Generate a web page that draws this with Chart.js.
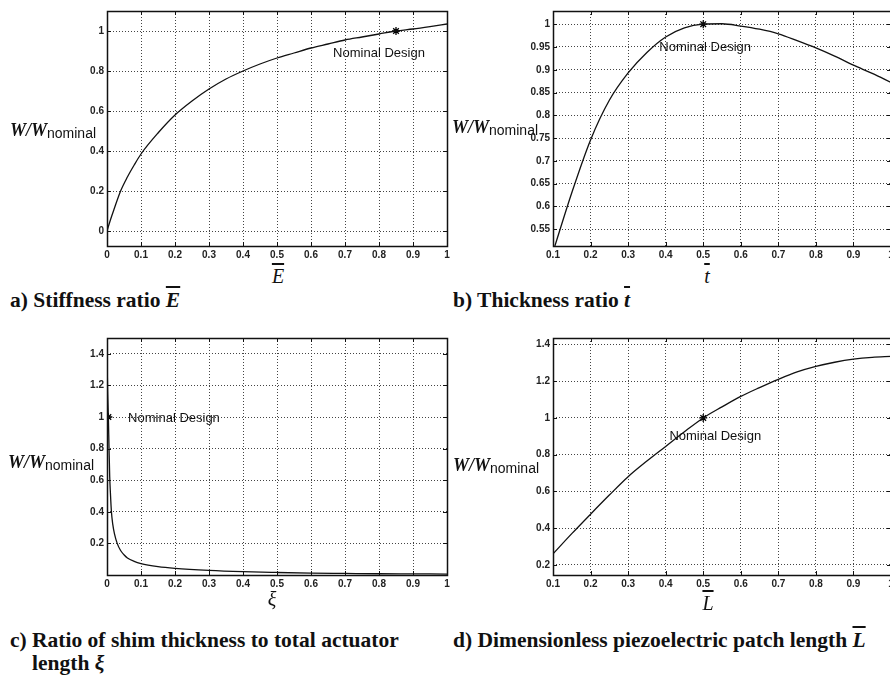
<!DOCTYPE html>
<html>
<head>
<meta charset="utf-8">
<script src="https://cdn.jsdelivr.net/npm/chart.js@4.4.1/dist/chart.umd.min.js"></script>
<style>
body { margin: 0; width: 890px; height: 678px; overflow: hidden; background: #fff; position: relative; }
canvas { position: absolute; }
.ylab { position: absolute; white-space: nowrap; line-height: 18px; color: #111; }
.ylab b { font: italic bold 18px 'Liberation Serif', serif; }
.ylab span { font: 14px 'Liberation Sans', sans-serif; position: relative; top: 2px; }
.xt { position: absolute; font: italic 20px 'Liberation Serif', serif; line-height: 20px; transform: translateX(-50%); color: #111; }
.ov { text-decoration: overline; }
.cap { position: absolute; font: bold 21.5px 'Liberation Serif', serif; line-height: 21px; white-space: nowrap; color: #111; }
</style>
</head>
<body>

<canvas id="chartA" width="400" height="262" style="left:60px;top:0px"></canvas>
<canvas id="chartB" width="410" height="262" style="left:500px;top:0px"></canvas>
<canvas id="chartC" width="400" height="264" style="left:60px;top:328px"></canvas>
<canvas id="chartD" width="410" height="264" style="left:500px;top:328px"></canvas>

<div class="ylab" style="left:10px;top:120px"><b>W/W</b><span>nominal</span></div>
<div class="ylab" style="left:452px;top:117px"><b>W/W</b><span>nominal</span></div>
<div class="ylab" style="left:8px;top:452px"><b>W/W</b><span>nominal</span></div>
<div class="ylab" style="left:453px;top:455px"><b>W/W</b><span>nominal</span></div>

<div class="xt" style="left:278px;top:266px"><span class="ov">E</span></div>
<div class="xt" style="left:707px;top:266px"><span class="ov">t</span></div>
<div class="xt" style="left:272px;top:589px">ξ</div>
<div class="xt" style="left:708px;top:593px"><span class="ov">L</span></div>

<div class="cap" style="left:10px;top:290px">a) Stiffness ratio <i class="ov">E</i></div>
<div class="cap" style="left:453px;top:290px">b) Thickness ratio <i class="ov">t</i></div>
<div class="cap" style="left:10px;top:630px">c) Ratio of shim thickness to total actuator</div>
<div class="cap" style="left:32px;top:653px">length <i>ξ</i></div>
<div class="cap" style="left:453px;top:630px">d) Dimensionless piezoelectric patch length <i class="ov">L</i></div>

<script>
// a) stiffness ratio
const eBar = [0, 0.01, 0.02, 0.04, 0.06, 0.08, 0.1, 0.15, 0.2, 0.25, 0.3, 0.35, 0.4, 0.45, 0.5, 0.55, 0.6, 0.65, 0.7, 0.75, 0.8, 0.85, 0.9, 0.95, 1.0];
const wE = [0, 0.055, 0.105, 0.2, 0.27, 0.33, 0.385, 0.49, 0.58, 0.65, 0.71, 0.76, 0.80, 0.835, 0.865, 0.89, 0.915, 0.935, 0.955, 0.97, 0.985, 1.0, 1.01, 1.022, 1.035];
const nomE = [0.85, 1.0];
const xTicksA = [0, 0.1, 0.2, 0.3, 0.4, 0.5, 0.6, 0.7, 0.8, 0.9, 1];
const yTicksA = [0, 0.2, 0.4, 0.6, 0.8, 1];

// b) thickness ratio
const tBar = [0.105, 0.15, 0.2, 0.25, 0.3, 0.35, 0.4, 0.45, 0.5, 0.55, 0.6, 0.65, 0.7, 0.75, 0.8, 0.85, 0.9, 0.95, 1.0];
const wT = [0.513, 0.63, 0.746, 0.833, 0.893, 0.938, 0.972, 0.992, 1.0, 1.001, 0.996, 0.989, 0.979, 0.964, 0.948, 0.93, 0.91, 0.892, 0.872];
const nomT = [0.5, 1.0];
const xTicksB = [0.1, 0.2, 0.3, 0.4, 0.5, 0.6, 0.7, 0.8, 0.9, 1];
const yTicksB = [0.55, 0.6, 0.65, 0.7, 0.75, 0.8, 0.85, 0.9, 0.95, 1];

// c) shim thickness ratio
const xi = [0, 0.002, 0.004, 0.006, 0.008, 0.01, 0.013, 0.017, 0.022, 0.03, 0.04, 0.05, 0.06, 0.08, 0.1, 0.15, 0.2, 0.3, 0.4, 0.5, 0.6, 0.7, 0.8, 0.9, 1.0];
const wXi = [1.37, 1.15, 1.0, 0.8, 0.62, 0.52, 0.4, 0.32, 0.26, 0.2, 0.155, 0.128, 0.108, 0.086, 0.072, 0.053, 0.042, 0.029, 0.021, 0.016, 0.012, 0.01, 0.008, 0.007, 0.006];
const nomXi = [0.004, 1.0];
const xTicksC = [0, 0.1, 0.2, 0.3, 0.4, 0.5, 0.6, 0.7, 0.8, 0.9, 1];
const yTicksC = [0.2, 0.4, 0.6, 0.8, 1, 1.2, 1.4];

// d) patch length
const lBar = [0.1, 0.15, 0.2, 0.25, 0.3, 0.35, 0.4, 0.45, 0.5, 0.55, 0.6, 0.65, 0.7, 0.75, 0.8, 0.85, 0.9, 0.95, 1.0];
const wL = [0.26, 0.37, 0.476, 0.58, 0.68, 0.765, 0.845, 0.925, 1.0, 1.06, 1.117, 1.165, 1.21, 1.25, 1.28, 1.303, 1.32, 1.33, 1.335];
const nomL = [0.5, 1.0];
const xTicksD = [0.1, 0.2, 0.3, 0.4, 0.5, 0.6, 0.7, 0.8, 0.9, 1];
const yTicksD = [0.2, 0.4, 0.6, 0.8, 1, 1.2, 1.4];

const fmt = v => String(+v.toFixed(2));

// matlab style box with inward ticks
const matBox = {
    id: 'matBox',
    afterDatasetsDraw(chart) {
        const { ctx, chartArea: a, scales: { x, y } } = chart;
        ctx.save();
        ctx.strokeStyle = '#111';
        ctx.lineWidth = 1;
        ctx.beginPath();
        x.ticks.forEach(t => {
            const px = Math.round(x.getPixelForValue(t.value)) + 0.5;
            ctx.moveTo(px, a.bottom); ctx.lineTo(px, a.bottom - 4);
            ctx.moveTo(px, a.top); ctx.lineTo(px, a.top + 4);
        });
        y.ticks.forEach(t => {
            const py = Math.round(y.getPixelForValue(t.value)) + 0.5;
            ctx.moveTo(a.left, py); ctx.lineTo(a.left + 4, py);
            ctx.moveTo(a.right, py); ctx.lineTo(a.right - 4, py);
        });
        ctx.stroke();
        ctx.lineWidth = 1.5;
        ctx.strokeRect(Math.round(a.left) + 0.5, Math.round(a.top) + 0.5, Math.round(a.right - a.left), Math.round(a.bottom - a.top));
        ctx.restore();
    }
};

const nomLabel = {
    id: 'nomLabel',
    afterDatasetsDraw(chart, args, opts) {
        const { ctx, scales: { x, y } } = chart;
        ctx.save();
        ctx.font = '13px "Liberation Sans"';
        ctx.fillStyle = '#111';
        ctx.textBaseline = 'middle';
        ctx.fillText('Nominal Design', x.getPixelForValue(opts.x), y.getPixelForValue(opts.y));
        ctx.restore();
    }
};

function makePanel(id, xs, ys, nom, xTicks, yTicks, lim, label, yAxisW, pad, xAxisH) {
    const ctx = document.getElementById(id).getContext('2d');
    const tickFont = { family: 'Liberation Sans', size: 10, weight: 'bold' };
    return new Chart(ctx, {
        type: 'scatter',
        data: {
            datasets: [{
                data: xs.map((v, i) => ({ x: v, y: ys[i] })),
                showLine: true,
                borderColor: '#111',
                borderWidth: 1.3,
                pointRadius: 0,
                cubicInterpolationMode: 'monotone'
            }, {
                data: [{ x: nom[0], y: nom[1] }],
                pointStyle: 'star',
                pointRadius: 4,
                borderColor: '#000',
                borderWidth: 1.3,
                backgroundColor: '#000'
            }]
        },
        options: {
            responsive: false,
            animation: false,
            devicePixelRatio: 1,
            events: [],
            layout: { padding: pad },
            plugins: {
                legend: { display: false },
                tooltip: { enabled: false },
                nomLabel: label
            },
            scales: {
                x: {
                    type: 'linear', min: lim[0], max: lim[1],
                    afterBuildTicks: s => { s.ticks = xTicks.map(v => ({ value: v })); },
                    afterFit: s => { s.height = xAxisH; },
                    grid: { color: '#444', lineWidth: 1, drawTicks: false },
                    border: { display: false, dash: [1, 2] },
                    ticks: { font: tickFont, color: '#222', padding: 3, maxRotation: 0, autoSkip: false, callback: fmt }
                },
                y: {
                    type: 'linear', min: lim[2], max: lim[3],
                    afterBuildTicks: s => { s.ticks = yTicks.map(v => ({ value: v })); },
                    afterFit: s => { s.width = yAxisW; },
                    grid: { color: '#444', lineWidth: 1, drawTicks: false },
                    border: { display: false, dash: [1, 2] },
                    ticks: { font: tickFont, color: '#222', padding: 3, autoSkip: false, callback: fmt }
                }
            }
        },
        plugins: [matBox, nomLabel]
    });
}

makePanel('chartA', eBar, wE, nomE, xTicksA, yTicksA, [0, 1, -0.075, 1.1],
    { x: 0.665, y: 0.888 }, 47, { top: 11, right: 13, left: 0, bottom: 0 }, 16);
makePanel('chartB', tBar, wT, nomT, xTicksB, yTicksB, [0.1, 1, 0.513, 1.029],
    { x: 0.383, y: 0.949 }, 53, { top: 11, right: 19, left: 0, bottom: 0 }, 16);
makePanel('chartC', xi, wXi, nomXi, xTicksC, yTicksC, [0, 1, 0, 1.5],
    { x: 0.062, y: 0.99 }, 47, { top: 10, right: 13, left: 0, bottom: 0 }, 17);
makePanel('chartD', lBar, wL, nomL, xTicksD, yTicksD, [0.1, 1, 0.145, 1.435],
    { x: 0.41, y: 0.899 }, 53, { top: 10, right: 19, left: 0, bottom: 0 }, 17);
</script>
</body>
</html>
